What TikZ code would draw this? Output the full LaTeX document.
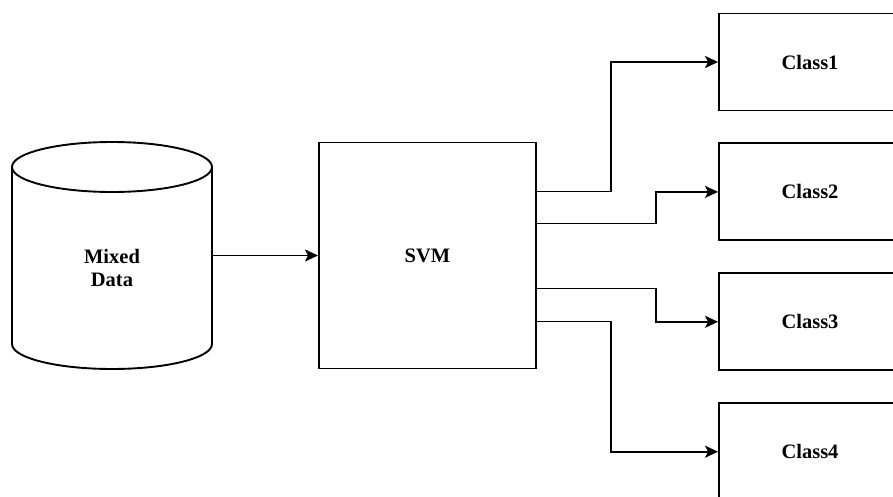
\documentclass[tikz,border=0pt]{standalone}
\usepackage{fontspec}
\setmainfont{Liberation Serif}
\usetikzlibrary{arrows.meta,positioning}

\begin{document}
\begin{tikzpicture}[x=1pt, y=1pt,
  node distance=31pt and 106pt,
  lbl/.style={align=center, font=\fontsize{20.5}{23}\selectfont\bfseries},
  box/.style={draw, line width=1.9pt, minimum width=182pt, minimum height=97pt, lbl},
  arr/.style={-{Stealth[length=13pt,width=12pt,inset=3pt]}, line width=1.9pt}
]
\useasboundingbox (0,0) rectangle (893,496);
\clip (0,0) rectangle (893,496);
% database cylinder
\node[minimum width=200pt, minimum height=227pt, inner sep=0pt, outer sep=0pt] (data) at (112,240.5) {};
\draw[line width=1.9pt] ([yshift=-25pt]data.north west) -- ([yshift=25pt]data.south west)
  arc[start angle=180, end angle=360, x radius=100pt, y radius=25pt] -- ([yshift=-25pt]data.north east);
\draw[line width=1.9pt] ([yshift=-25pt]data.north) ellipse[x radius=100pt, y radius=25pt];
\node[lbl] (datatxt) at ([yshift=-12.5pt]data.center) {Mixed\\Data};
\node[box, minimum width=217pt, minimum height=226pt, right=106pt of data] (svm) {SVM};
% classes
\node[box] (c1) at (810,434) {Class1};
\node[box, below=of c1] (c2) {Class2};
\node[box, below=of c2] (c3) {Class3};
\node[box, below=of c3] (c4) {Class4};
\draw[arr] (data.east) -- (svm.west);
\draw[arr] ([yshift=64pt]svm.east) -| ([xshift=-107pt]c1.west) -- (c1.west);
\draw[arr] ([yshift=32pt]svm.east) -| ([xshift=-62pt]c2.west) -- (c2.west);
\draw[arr] ([yshift=-33pt]svm.east) -| ([xshift=-62pt]c3.west) -- (c3.west);
\draw[arr] ([yshift=-66pt]svm.east) -| ([xshift=-107pt]c4.west) -- (c4.west);
\end{tikzpicture}
\end{document}
